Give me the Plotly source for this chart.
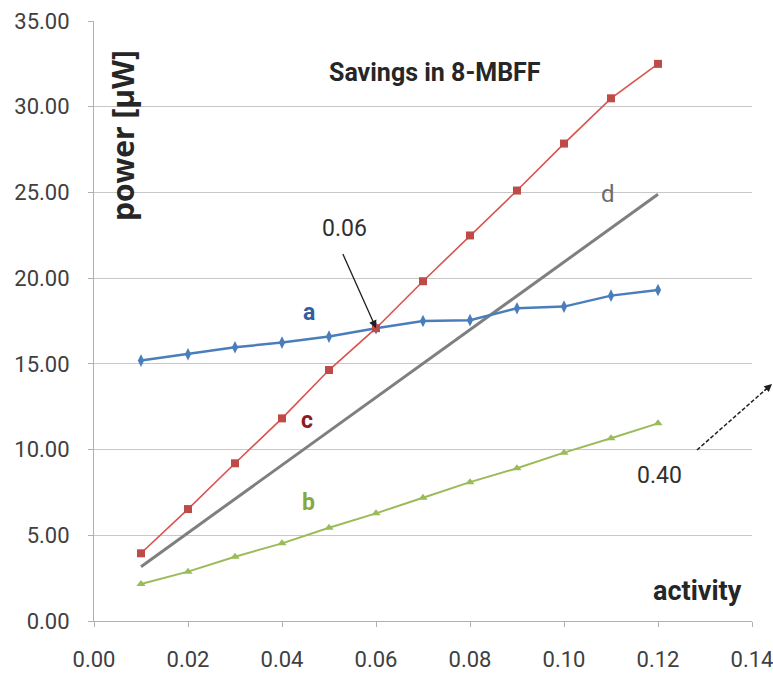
import plotly.graph_objects as go

# activity levels sampled for the three measured curves
activity = [0.01, 0.02, 0.03, 0.04, 0.05, 0.06, 0.07, 0.08, 0.09, 0.10, 0.11, 0.12]

# power [uW] per curve
power_a = [15.19, 15.56, 15.97, 16.24, 16.59, 17.08, 17.50, 17.55, 18.24, 18.34, 18.98, 19.31]
power_b = [2.16, 2.88, 3.75, 4.53, 5.44, 6.28, 7.19, 8.10, 8.91, 9.82, 10.66, 11.53]
power_c = [3.95, 6.53, 9.20, 11.82, 14.64, 17.08, 19.82, 22.49, 25.11, 27.85, 30.49, 32.50]

# straight reference line d (end points)
activity_d = [0.01, 0.12]
power_d = [3.17, 24.89]

x_ticks = [0.00, 0.02, 0.04, 0.06, 0.08, 0.10, 0.12, 0.14]
y_ticks = [0, 5, 10, 15, 20, 25, 30, 35]

FONT = "Roboto, Open Sans, sans-serif"
TXT = "#404040"

fig = go.Figure()
fig.add_trace(go.Scatter(x=activity_d, y=power_d, mode="lines",
                         line=dict(color="#7f7f7f", width=3), name="d"))
fig.add_trace(go.Scatter(x=activity, y=power_a, mode="lines+markers",
                         line=dict(color="#4a7ebb", width=2.5),
                         marker=dict(symbol="diamond-tall", size=9, color="#4a7ebb"), name="a"))
fig.add_trace(go.Scatter(x=activity, y=power_b, mode="lines+markers",
                         line=dict(color="#9bbb59", width=2),
                         marker=dict(symbol="triangle-up", size=8, color="#9bbb59"), name="b"))
fig.add_trace(go.Scatter(x=activity, y=power_c, mode="lines+markers",
                         line=dict(color="#d9534f", width=1.6),
                         marker=dict(symbol="square", size=8, color="#be4b48"), name="c"))

ann = []
# curve labels
ann.append(dict(x=0.0457, y=17.97, text="<b>a</b>", showarrow=False,
                font=dict(family=FONT, size=23, color="#2f5f9f")))
ann.append(dict(x=0.0453, y=11.67, text="<b>c</b>", showarrow=False,
                font=dict(family=FONT, size=23, color="#8b1c24")))
ann.append(dict(x=0.0457, y=6.94, text="<b>b</b>", showarrow=False,
                font=dict(family=FONT, size=23, color="#86a83c")))
ann.append(dict(x=0.1094, y=24.9, text="d", showarrow=False,
                font=dict(family=FONT, size=24, color="#6b6b6b")))
# crossing point text and arrow
ann.append(dict(x=0.0532, y=22.9, text="0.06", showarrow=False,
                font=dict(family=FONT, size=23, color="#303030")))
ann.append(dict(x=0.06, y=17.08, ax=0.0528, ay=21.5, axref="x", ayref="y",
                text="", showarrow=True, arrowhead=2, arrowsize=1.2,
                arrowwidth=1.3, arrowcolor="#202020"))
ann.append(dict(x=0.1204, y=8.46, text="0.40", showarrow=False,
                font=dict(family=FONT, size=23, color="#303030")))
# titles placed inside the plot
ann.append(dict(x=0.0725, y=32.0, text="<b>Savings in 8-MBFF</b>", showarrow=False,
                font=dict(family=FONT, size=25, color="#262626")))
ann.append(dict(x=0.1285, y=1.75, text="<b>activity</b>", showarrow=False,
                font=dict(family=FONT, size=27, color="#262626")))
ann.append(dict(x=0.0062, y=28.3, text="power [µW]", showarrow=False, textangle=-90,
                font=dict(family="Open Sans, sans-serif", size=30, weight=700, color="#262626")))
# dashed pointer on the right edge: arrow head only
ann.append(dict(xref="paper", yref="paper", x=1.0304, y=0.395, ax=-9, ay=8,
                text="", showarrow=True, arrowhead=2, arrowsize=1.1,
                arrowwidth=1.4, arrowcolor="#202020"))

fig.update_layout(
    width=773, height=684,
    margin=dict(l=94, r=21, t=21, b=63),
    paper_bgcolor="white", plot_bgcolor="white",
    showlegend=False,
    annotations=ann,
    shapes=[dict(type="line", xref="paper", yref="paper",
                 x0=0.9164, y0=0.285, x1=1.022, y1=0.387,
                 line=dict(color="#202020", width=1.5, dash="4px,2px"))],
    xaxis=dict(range=[0, 0.14], tickvals=x_ticks, tickformat=".2f",
               automargin=False, ticklabeloverflow="allow",
               showgrid=False, zeroline=False, showline=True, linecolor="#b0b0b0",
               ticks="outside", ticklen=5, tickcolor="#b0b0b0",
               ticklabelstandoff=14,
               tickfont=dict(family=FONT, size=22, color=TXT)),
    yaxis=dict(range=[0, 35], tickvals=y_ticks, tickformat=".2f",
               automargin=False, ticklabeloverflow="allow",
               showgrid=True, gridcolor="#c8c8c8", zeroline=False,
               showline=True, linecolor="#b0b0b0",
               ticks="outside", ticklen=5, tickcolor="#b0b0b0",
               ticklabelstandoff=14,
               tickfont=dict(family=FONT, size=22, color=TXT)),
)

fig.write_html("out.html")
